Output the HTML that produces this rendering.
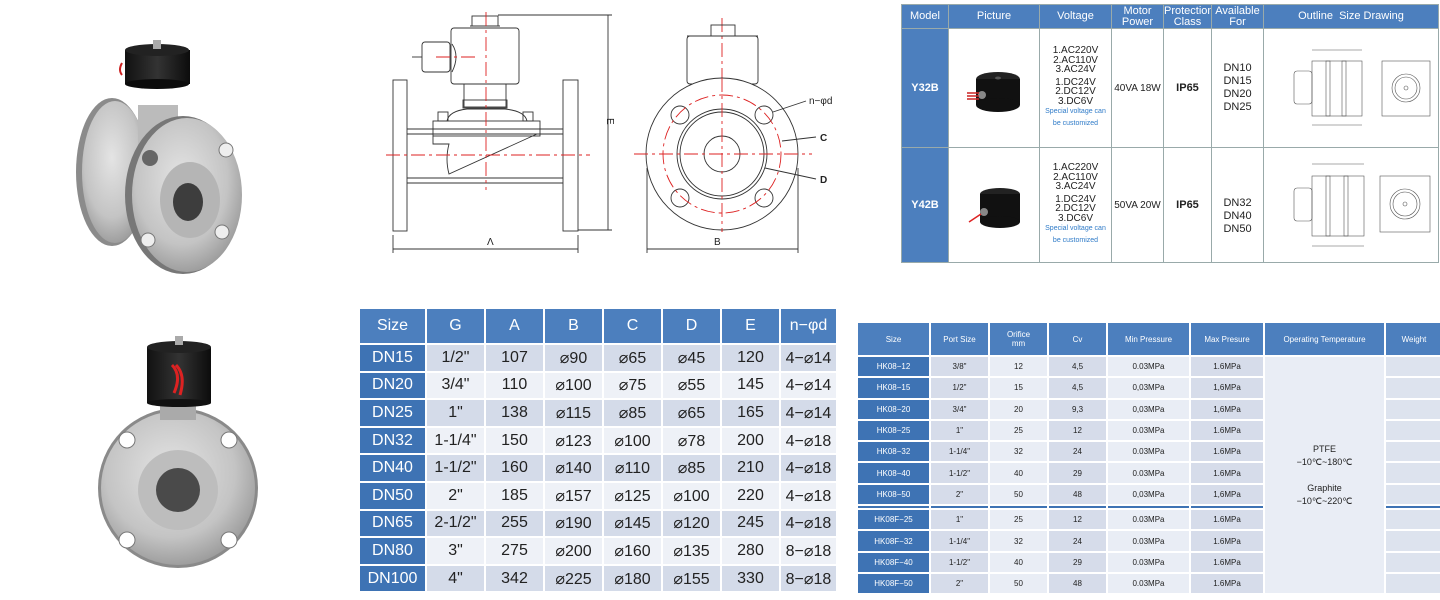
<!DOCTYPE html>
<html><head><meta charset="utf-8"><style>
*{margin:0;padding:0;box-sizing:border-box}
body{width:1440px;height:600px;background:#fff;position:relative;overflow:hidden;font-family:"Liberation Sans",Arial,sans-serif}
table{position:absolute;table-layout:fixed}
td{text-align:center;vertical-align:middle;overflow:hidden;white-space:nowrap}
#t1{left:901px;top:4px;width:538px;border-collapse:collapse}
#t1 td{border:1px solid #9aa;font-size:10px;color:#222}
#t1 .h{background:#4c7fbe;color:#fff;font-size:11px;line-height:11px;height:24px}
#t1 .m{background:#4c7fbe;color:#fff;font-size:11px;font-weight:bold}
#t2{left:358px;top:307px;width:478px;border-collapse:separate;border-spacing:2px}
#t2 td{font-size:16px;color:#222;height:25.6px;padding:0}
#t2 .h{background:#4c7fbe;color:#fff;height:34px;font-size:16px}
#t2 .s{background:#3e73b4;color:#fff}
#t2 tr.o td.v{background:#d4dbe9}
#t2 tr.e td.v{background:#eef1f7}
#t3{left:856px;top:321px;width:588px;border-collapse:separate;border-spacing:2px}
#t3 td{font-size:8px;color:#222;height:19.3px;padding:0}
#t3 .h{background:#4c7fbe;color:#fff;height:32px;font-size:8px;line-height:9px}
#t3 .s{background:#3e73b4;color:#fff}
#t3 .d{background:#d6dcea}
#t3 .l{background:#e9edf5}
#t3 .w{background:#dde3ee}
#t3 .op{background:#e9edf5;font-size:9px;line-height:13px;white-space:normal}
#t3 tr.sep td{height:2px;background:#3e73b4;padding:0}
.blue{color:#2f7bc8;font-size:7px;line-height:12px}
</style></head><body>

<svg style="position:absolute;left:0;top:0" width="360" height="600">
<defs>
<radialGradient id="st" cx="45%" cy="40%" r="70%"><stop offset="0" stop-color="#e4e4e4"/><stop offset="0.6" stop-color="#c4c4c4"/><stop offset="1" stop-color="#8a8a8a"/></radialGradient>
<linearGradient id="bk" x1="0" x2="1"><stop offset="0" stop-color="#111"/><stop offset="0.5" stop-color="#333"/><stop offset="1" stop-color="#0c0c0c"/></linearGradient>
</defs>
<ellipse cx="112" cy="172" rx="36" ry="74" fill="#8b8b8b"/>
<ellipse cx="115" cy="172" rx="33" ry="71" fill="url(#st)"/>
<rect x="138" y="105" width="40" height="50" fill="#bbb"/>
<rect x="125" y="50" width="65" height="34" fill="url(#bk)"/>
<ellipse cx="157" cy="50" rx="32" ry="6" fill="#222"/>
<ellipse cx="157" cy="84" rx="32" ry="5" fill="#0c0c0c"/>
<rect x="153" y="40" width="8" height="9" fill="#aaa"/>
<path d="M122 75 q-4 -5 0 -12" stroke="#c22" stroke-width="2" fill="none"/>
<ellipse cx="183" cy="195" rx="58" ry="79" fill="#777"/>
<ellipse cx="187" cy="195" rx="55" ry="77" fill="url(#st)"/>
<ellipse cx="190" cy="200" rx="30" ry="38" fill="#b5b5b5"/>
<ellipse cx="188" cy="202" rx="15" ry="19" fill="#3d3d3d"/>
<circle cx="150" cy="158" r="8" fill="#666"/><circle cx="226" cy="150" r="7" fill="#eee" stroke="#777"/>
<circle cx="148" cy="240" r="7" fill="#eee" stroke="#777"/><circle cx="222" cy="232" r="7" fill="#eee" stroke="#777"/>
<circle cx="178" cy="488" r="80" fill="#8a8a8a"/>
<circle cx="178" cy="488" r="77" fill="url(#st)"/>
<circle cx="178" cy="490" r="40" fill="#bdbdbd"/>
<circle cx="178" cy="490" r="22" fill="#4a4a4a"/>
<circle cx="127" cy="440" r="8" fill="#fff" stroke="#777"/><circle cx="229" cy="440" r="8" fill="#fff" stroke="#777"/>
<circle cx="127" cy="540" r="8" fill="#fff" stroke="#777"/><circle cx="229" cy="540" r="8" fill="#fff" stroke="#777"/>
<rect x="160" y="398" width="36" height="22" fill="#aaa"/>
<rect x="147" y="347" width="64" height="56" fill="url(#bk)"/>
<ellipse cx="179" cy="347" rx="32" ry="6" fill="#222"/>
<ellipse cx="179" cy="403" rx="32" ry="4" fill="#111"/>
<rect x="175" y="336" width="8" height="9" fill="#aaa"/>
<path d="M172 365 q10 10 2 28 M176 365 q10 10 4 30" stroke="#d22" stroke-width="3" fill="none"/>
</svg>

<svg style="position:absolute;left:380px;top:0" width="470" height="262" fill="none" stroke="#333" stroke-width="0.9">
<g transform="translate(-380,0)">
<rect x="393" y="80" width="14" height="151"/><rect x="563" y="80" width="15" height="151"/>
<line x1="407" y1="129" x2="563" y2="129"/><line x1="407" y1="134" x2="563" y2="134"/>
<line x1="407" y1="178" x2="563" y2="178"/><line x1="407" y1="183" x2="563" y2="183"/>
<rect x="433" y="121" width="107" height="15"/>
<path d="M447 121 q2 -10 20 -12 h38 q20 2 22 12"/>
<rect x="438" y="112" width="10" height="9"/><rect x="523" y="112" width="10" height="9"/>
<path d="M433 136 v8 h16 q-4 15 0 30 l88 -40"/>
<rect x="464" y="84" width="42" height="23"/><rect x="463" y="100" width="44" height="8"/>
<rect x="451" y="28" width="68" height="56" rx="3"/>
<rect x="472" y="16" width="26" height="10"/><line x1="470" y1="26" x2="500" y2="26"/>
<path d="M452 44 q8 12 0 28"/><rect x="422" y="42" width="28" height="30" rx="3"/><line x1="412" y1="57" x2="422" y2="57"/>
<g stroke="#d22" stroke-dasharray="14 4 3 4">
<line x1="486" y1="12" x2="486" y2="190"/><line x1="386" y1="155" x2="590" y2="155"/><line x1="436" y1="57" x2="475" y2="57"/>
<line x1="722" y1="18" x2="722" y2="232"/><line x1="634" y1="154" x2="812" y2="154"/>
</g>
<line x1="498" y1="15" x2="612" y2="15"/><line x1="578" y1="230" x2="612" y2="230"/>
<line x1="608" y1="15" x2="608" y2="230"/>
<line x1="393" y1="235" x2="393" y2="253"/><line x1="578" y1="235" x2="578" y2="253"/>
<line x1="393" y1="249" x2="578" y2="249"/>
<line x1="647" y1="168" x2="647" y2="253"/><line x1="798" y1="168" x2="798" y2="253"/>
<line x1="647" y1="249" x2="798" y2="249"/>
<rect x="687" y="36" width="71" height="48" rx="3"/><rect x="711" y="25" width="24" height="11"/><line x1="687" y1="36" x2="758" y2="36"/>
<circle cx="722" cy="154" r="76" fill="#fff"/>
<circle cx="722" cy="154" r="45"/><circle cx="722" cy="154" r="42"/><circle cx="722" cy="154" r="18"/>
<circle cx="680" cy="115" r="9"/><circle cx="764" cy="115" r="9"/><circle cx="680" cy="198" r="9"/><circle cx="764" cy="198" r="9"/>
<g stroke="#d22" stroke-dasharray="14 4 3 4"><circle cx="722" cy="154" r="59"/>
<line x1="722" y1="78" x2="722" y2="232"/><line x1="634" y1="154" x2="812" y2="154"/></g>
<line x1="773" y1="112" x2="806" y2="101"/><line x1="782" y1="141" x2="816" y2="137"/><line x1="765" y1="168" x2="816" y2="179"/>
</g>
<g fill="#222" stroke="none" font-family="Liberation Sans,Arial,sans-serif" font-size="10">
<text x="107" y="245">Λ</text><text x="334" y="245">B</text>
<text x="227" y="118" transform="rotate(90 227 118)">E</text>
<text x="429" y="104">n−φd</text><text x="440" y="141" font-weight="bold">C</text><text x="440" y="183" font-weight="bold">D</text>
</g>
</svg>

<table id="t1">
<colgroup><col style="width:47px"><col style="width:91px"><col style="width:72px"><col style="width:52px"><col style="width:48px"><col style="width:52px"><col></colgroup>
<tr><td class="h">Model</td><td class="h">Picture</td><td class="h">Voltage</td><td class="h">Motor<br>Power</td><td class="h">Protection<br>Class</td><td class="h">Available<br>For</td><td class="h">Outline&nbsp; Size Drawing</td></tr>
<tr style="height:119px"><td class="m">Y32B</td>
<td><svg width="60" height="60"><ellipse cx="34" cy="22" rx="22" ry="7" fill="#222"/><rect x="12" y="22" width="44" height="26" fill="#111"/><ellipse cx="34" cy="48" rx="22" ry="7" fill="#111"/><ellipse cx="34" cy="21" rx="3" ry="1.5" fill="#555"/><circle cx="18" cy="38" r="4" fill="#888"/><path d="M15 36 h-12 M15 39 h-12 M15 42 h-12" stroke="#c22" stroke-width="1.5"/></svg></td>
<td style="line-height:9.5px">1.AC220V<br>2.AC110V<br>3.AC24V<br><span style="display:block;height:3px"></span>1.DC24V<br>2.DC12V<br>3.DC6V<br><span class="blue">Special voltage can<br>be customized</span></td>
<td>40VA 18W</td><td style="font-size:11px;font-weight:bold">IP65</td>
<td style="font-size:11px;line-height:13px">DN10<br>DN15<br>DN20<br>DN25</td>
<td><svg width="176" height="100" fill="none" stroke="#555" stroke-width="0.6"><rect x="48" y="24" width="50" height="55"/><rect x="62" y="24" width="4" height="55"/><rect x="78" y="24" width="4" height="55"/><rect x="30" y="34" width="18" height="33" rx="3"/><rect x="118" y="24" width="48" height="55"/><circle cx="142" cy="51" r="14"/><circle cx="142" cy="51" r="11"/><circle cx="142" cy="51" r="2"/><line x1="48" y1="13" x2="98" y2="13"/><line x1="48" y1="88" x2="98" y2="88"/></svg></td></tr>
<tr style="height:115px"><td class="m">Y42B</td>
<td><svg width="60" height="60"><ellipse cx="36" cy="20" rx="20" ry="6" fill="#222"/><rect x="16" y="20" width="40" height="28" fill="#111"/><ellipse cx="36" cy="48" rx="20" ry="6" fill="#111"/><circle cx="20" cy="38" r="4" fill="#888"/><path d="M17 40 l-12 8" stroke="#d22" stroke-width="1.5"/></svg></td>
<td style="line-height:9.5px">1.AC220V<br>2.AC110V<br>3.AC24V<br><span style="display:block;height:3px"></span>1.DC24V<br>2.DC12V<br>3.DC6V<br><span class="blue">Special voltage can<br>be customized</span></td>
<td>50VA 20W</td><td style="font-size:11px;font-weight:bold">IP65</td>
<td style="font-size:11px;line-height:13px;padding-top:22px">DN32<br>DN40<br>DN50</td>
<td><svg width="176" height="100" fill="none" stroke="#555" stroke-width="0.6"><rect x="48" y="22" width="52" height="60"/><rect x="62" y="22" width="4" height="60"/><rect x="80" y="22" width="4" height="60"/><rect x="30" y="34" width="18" height="33" rx="3"/><rect x="116" y="22" width="50" height="56"/><circle cx="141" cy="50" r="15"/><circle cx="141" cy="50" r="12"/><circle cx="141" cy="50" r="2"/><line x1="48" y1="10" x2="100" y2="10"/><line x1="48" y1="92" x2="100" y2="92"/></svg></td></tr>
</table>

<table id="t2">
<colgroup><col style="width:65px"><col style="width:57px"><col style="width:57px"><col style="width:57px"><col style="width:57px"><col style="width:57px"><col style="width:57px"><col style="width:55px"></colgroup>
<tr><td class="h">Size</td><td class="h">G</td><td class="h">A</td><td class="h">B</td><td class="h">C</td><td class="h">D</td><td class="h">E</td><td class="h">n−φd</td></tr>
<tr class="o"><td class="s">DN15</td><td class="v">1/2"</td><td class="v">107</td><td class="v">⌀90</td><td class="v">⌀65</td><td class="v">⌀45</td><td class="v">120</td><td class="v">4−⌀14</td></tr>
<tr class="e"><td class="s">DN20</td><td class="v">3/4"</td><td class="v">110</td><td class="v">⌀100</td><td class="v">⌀75</td><td class="v">⌀55</td><td class="v">145</td><td class="v">4−⌀14</td></tr>
<tr class="o"><td class="s">DN25</td><td class="v">1"</td><td class="v">138</td><td class="v">⌀115</td><td class="v">⌀85</td><td class="v">⌀65</td><td class="v">165</td><td class="v">4−⌀14</td></tr>
<tr class="e"><td class="s">DN32</td><td class="v">1-1/4"</td><td class="v">150</td><td class="v">⌀123</td><td class="v">⌀100</td><td class="v">⌀78</td><td class="v">200</td><td class="v">4−⌀18</td></tr>
<tr class="o"><td class="s">DN40</td><td class="v">1-1/2"</td><td class="v">160</td><td class="v">⌀140</td><td class="v">⌀110</td><td class="v">⌀85</td><td class="v">210</td><td class="v">4−⌀18</td></tr>
<tr class="e"><td class="s">DN50</td><td class="v">2"</td><td class="v">185</td><td class="v">⌀157</td><td class="v">⌀125</td><td class="v">⌀100</td><td class="v">220</td><td class="v">4−⌀18</td></tr>
<tr class="o"><td class="s">DN65</td><td class="v">2-1/2"</td><td class="v">255</td><td class="v">⌀190</td><td class="v">⌀145</td><td class="v">⌀120</td><td class="v">245</td><td class="v">4−⌀18</td></tr>
<tr class="e"><td class="s">DN80</td><td class="v">3"</td><td class="v">275</td><td class="v">⌀200</td><td class="v">⌀160</td><td class="v">⌀135</td><td class="v">280</td><td class="v">8−⌀18</td></tr>
<tr class="o"><td class="s">DN100</td><td class="v">4"</td><td class="v">342</td><td class="v">⌀225</td><td class="v">⌀180</td><td class="v">⌀155</td><td class="v">330</td><td class="v">8−⌀18</td></tr>
</table>

<table id="t3">
<colgroup><col style="width:71px"><col style="width:57px"><col style="width:57px"><col style="width:57px"><col style="width:81px"><col style="width:72px"><col style="width:119px"><col></colgroup>
<tr><td class="h">Size</td><td class="h">Port Size</td><td class="h">Orifice<br>mm</td><td class="h">Cv</td><td class="h">Min Pressure</td><td class="h">Max Presure</td><td class="h">Operating Temperature</td><td class="h">Weight</td></tr>
<tr><td class="s">HK08−12</td><td class="d">3/8"</td><td class="l">12</td><td class="d">4,5</td><td class="l">0.03MPa</td><td class="d">1.6MPa</td><td class="op" rowspan="12">PTFE<br>−10℃~180℃<br><br>Graphite<br>−10℃~220℃</td><td class="w"></td></tr>
<tr><td class="s">HK08−15</td><td class="d">1/2"</td><td class="l">15</td><td class="d">4,5</td><td class="l">0,03MPa</td><td class="d">1,6MPa</td><td class="w"></td></tr>
<tr><td class="s">HK08−20</td><td class="d">3/4"</td><td class="l">20</td><td class="d">9,3</td><td class="l">0,03MPa</td><td class="d">1,6MPa</td><td class="w"></td></tr>
<tr><td class="s">HK08−25</td><td class="d">1"</td><td class="l">25</td><td class="d">12</td><td class="l">0.03MPa</td><td class="d">1.6MPa</td><td class="w"></td></tr>
<tr><td class="s">HK08−32</td><td class="d">1-1/4"</td><td class="l">32</td><td class="d">24</td><td class="l">0.03MPa</td><td class="d">1.6MPa</td><td class="w"></td></tr>
<tr><td class="s">HK08−40</td><td class="d">1-1/2"</td><td class="l">40</td><td class="d">29</td><td class="l">0.03MPa</td><td class="d">1.6MPa</td><td class="w"></td></tr>
<tr><td class="s">HK08−50</td><td class="d">2"</td><td class="l">50</td><td class="d">48</td><td class="l">0,03MPa</td><td class="d">1,6MPa</td><td class="w"></td></tr>
<tr class="sep"><td></td><td></td><td></td><td></td><td></td><td></td><td></td></tr>
<tr><td class="s">HK08F−25</td><td class="d">1"</td><td class="l">25</td><td class="d">12</td><td class="l">0.03MPa</td><td class="d">1.6MPa</td><td class="w"></td></tr>
<tr><td class="s">HK08F−32</td><td class="d">1-1/4"</td><td class="l">32</td><td class="d">24</td><td class="l">0.03MPa</td><td class="d">1.6MPa</td><td class="w"></td></tr>
<tr><td class="s">HK08F−40</td><td class="d">1-1/2"</td><td class="l">40</td><td class="d">29</td><td class="l">0.03MPa</td><td class="d">1.6MPa</td><td class="w"></td></tr>
<tr><td class="s">HK08F−50</td><td class="d">2"</td><td class="l">50</td><td class="d">48</td><td class="l">0.03MPa</td><td class="d">1.6MPa</td><td class="w"></td></tr>
</table>
</body></html>
